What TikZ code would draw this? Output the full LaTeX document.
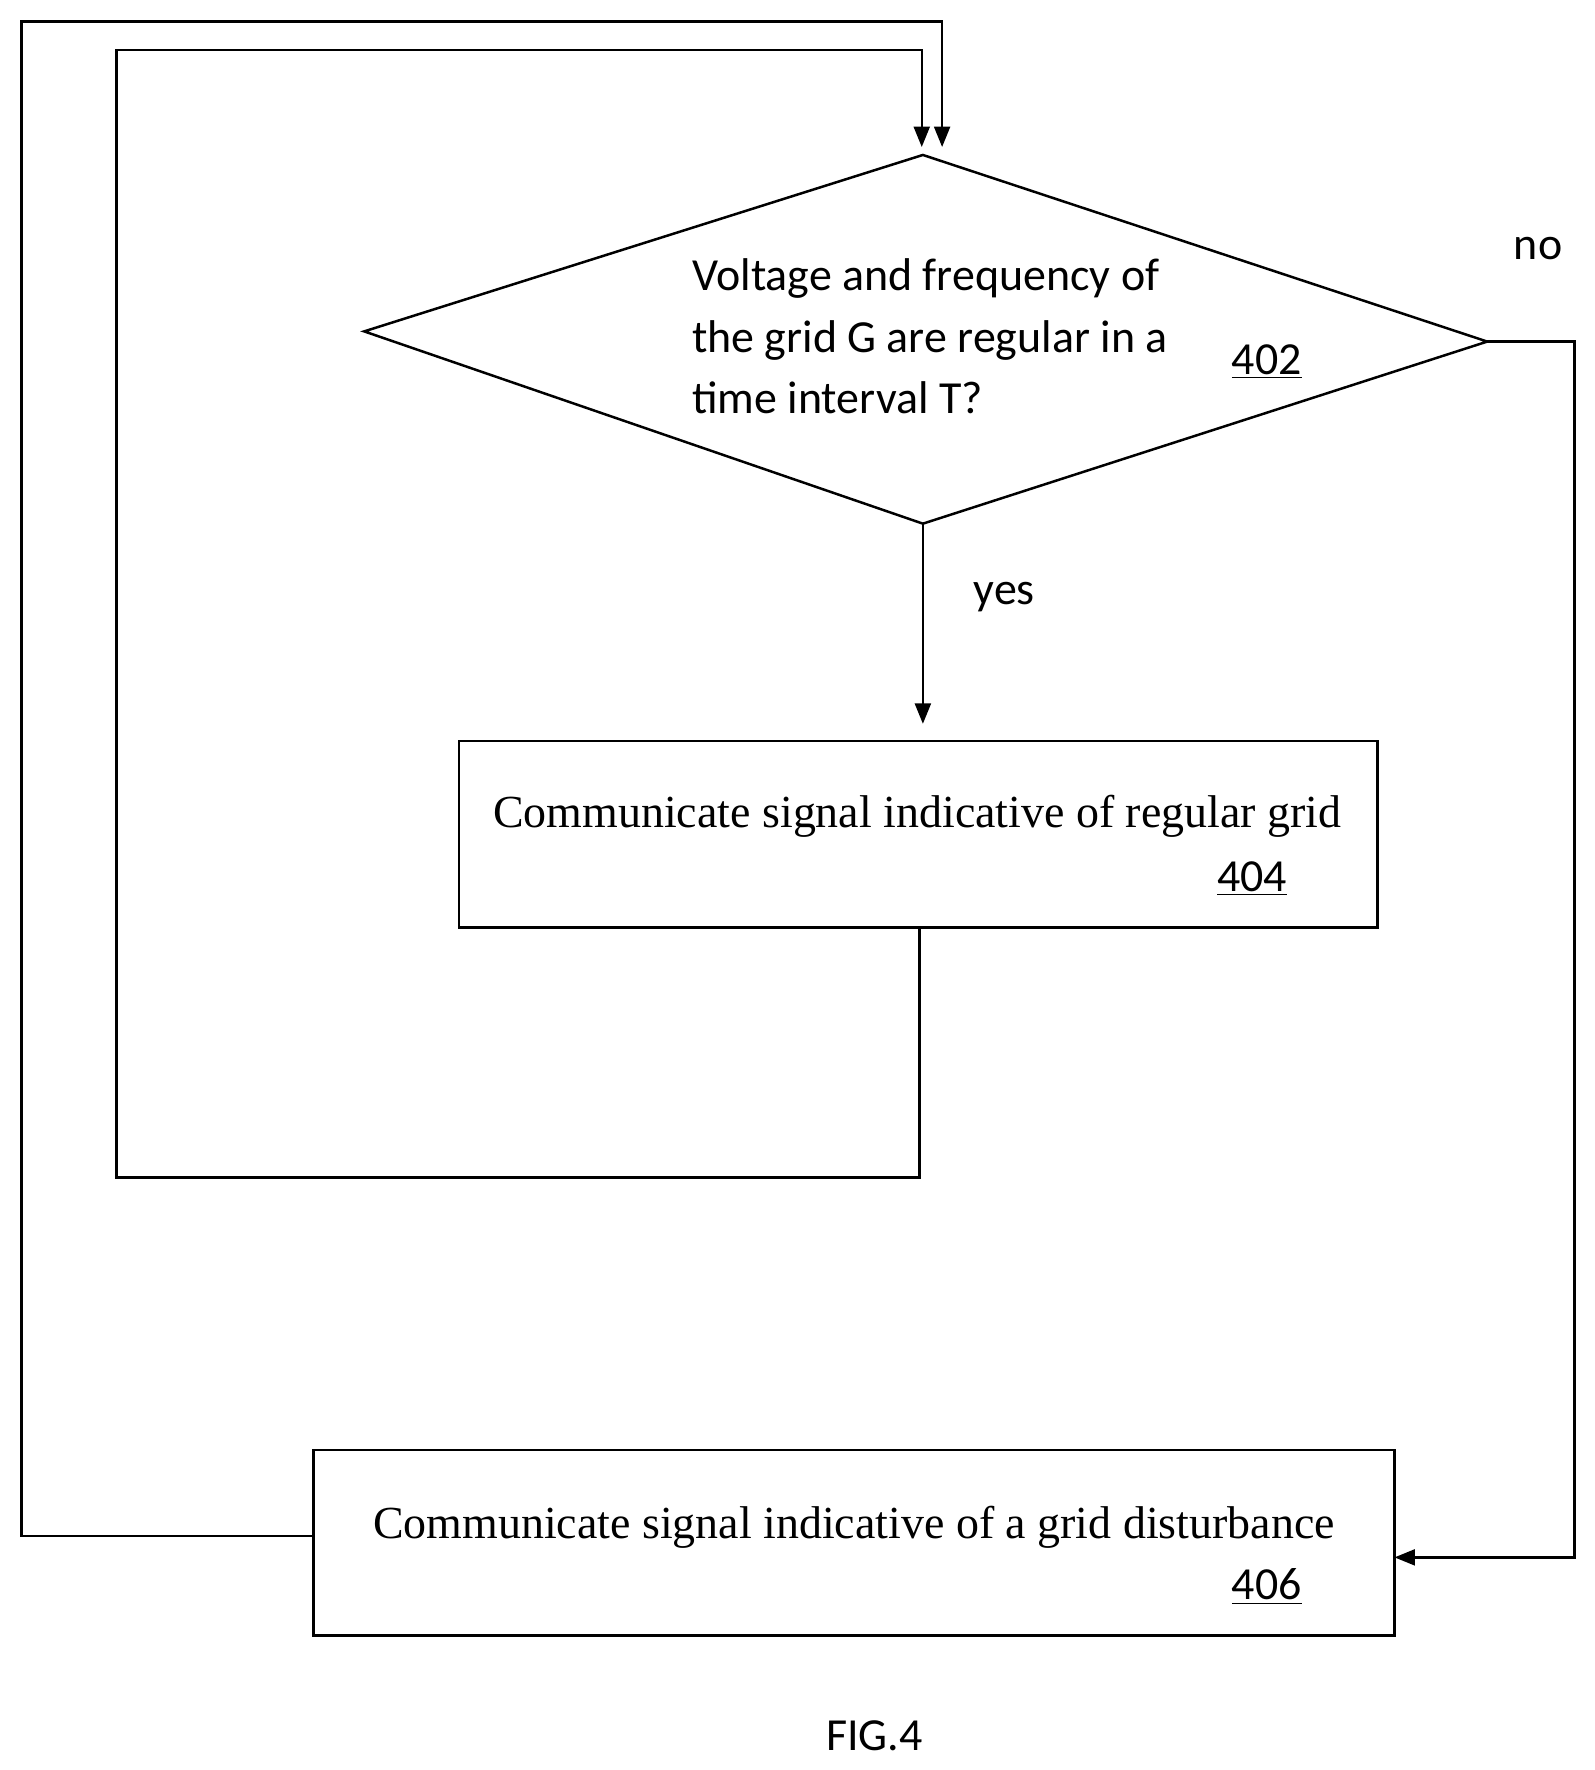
\documentclass[tikz,border=0pt]{standalone}
\usepackage{fontspec}
\setmainfont{Liberation Serif}
\newfontfamily\carlitofont{Carlito}
\usetikzlibrary{arrows.meta}
\begin{document}
\begin{tikzpicture}[x=0.5pt,y=-0.5pt,
  ln/.style={draw=black,line width=1.1pt},
  arr/.style={ln,-{Triangle[length=9pt,width=7pt]}},
  sans/.style={font=\carlitofont\fontsize{20.3}{27}\selectfont},
  serif/.style={font=\fontsize{20.3}{24}\selectfont}]
\useasboundingbox (0,0) rectangle (1410,1565);
% diamond
\draw[ln] (322,293) coordinate (dl) -- (816,137) coordinate (dt) -- (1315,302) coordinate (dr) -- (816,463) coordinate (db) -- cycle;
\node[sans,align=left,anchor=north west] (q) at (605,222) {Voltage and frequency of\\the grid G are regular in a\\time interval T?};
\node[sans] (n402) at (1120,320) {\underline{402}};
% boxes
\node[ln,minimum width=406pt,minimum height=82.5pt,inner sep=0pt] (b404) at (812,737.5) {};
\node[serif] (t404) at (811,722) {Communicate signal indicative of regular grid};
\node[sans] (n404) at (1107,777) {\underline{404}};
\node[ln,minimum width=478pt,minimum height=82pt,inner sep=0pt] (b406) at (755,1364) {};
\node[serif] (t406) at (755,1350) {Communicate signal indicative of a grid disturbance};
\node[sans] (n406) at (1120,1403) {\underline{406}};
% connectors
\draw[arr] (db) -- (816,640) coordinate (ya);
\node[sans] (yes) at (888,528) {yes};
\coordinate (e404) at (813,820);
\draw[arr] (e404) -- (813,1041) -- (103,1041) -- (103,44) -- (815,44) -- (815,130);
\draw[arr] (dr) -- (1392,302) -- (1392,1377) -- (1233,1377);
\node[sans] (no) at (1360,220) {no};
\coordinate (w406) at (277,1358);
\draw[arr] (w406) -- (19,1358) -- (19,19) -- (833,19) -- (833,130);
\node[sans] (fig) at (773,1535) {FIG.4};
\end{tikzpicture}
\end{document}
